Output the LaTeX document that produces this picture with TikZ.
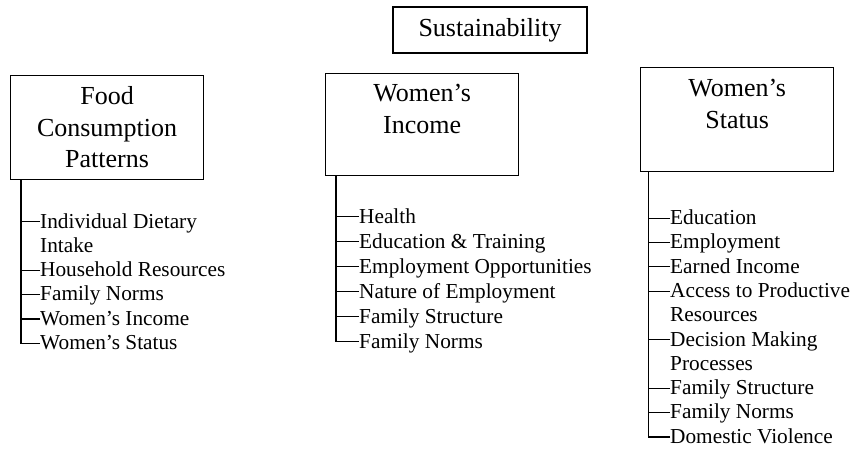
\documentclass[tikz,border=0pt]{standalone}
\usepackage{fontspec}
\setmainfont{Liberation Serif}
\usetikzlibrary{positioning}
% two-line list entry, baseline on the first line
\newcommand{\twolines}[2]{\begin{tabular}[t]{@{}l@{}}#1\\#2\end{tabular}}

\begin{document}
\begin{tikzpicture}[
x=1pt, y=-1pt,
head/.style={
  draw,
  line width=1.2pt,
  minimum width=193pt,
  minimum height=104pt,
  align=center,
  font=\fontsize{26}{31.5}\selectfont,
  anchor=north west
  },
item/.style={
  anchor=base west,
  inner sep=0pt,
  font=\fontsize{21.3}{24.3}\selectfont
  },
tick/.style={
  line width=1.2pt
  }
]
\useasboundingbox (0,0) rectangle (853,449);
% top box
\node[head, minimum width=194pt, minimum height=46pt, anchor=center] (sust) at (490,30) {Sustainability};
% the three columns
\node[head] (food) at (10,75) {Food\\Consumption\\Patterns};
\node[head, minimum height=102pt] (inc) at (325,73) {Women’s\\Income\\\mbox{}};
\node[head] (stat) at (640,67) {Women’s\\Status\\\mbox{}};
\coordinate (food-t) at ([xshift=11pt]food.south west);
\coordinate (inc-t) at ([xshift=11pt]inc.south west);
\coordinate (stat-t) at ([xshift=8.5pt]stat.south west);
% food consumption patterns
\foreach \n/\t [count=\i] in {0/{\twolines{Individual Dietary}{Intake}},2/Household Resources,3/Family Norms,4/Women’s Income,5/Women’s Status}
  \node[item] (food-\i) at (40,{228+24.3*\n}) {\t};
\foreach \i in {1,...,5}
  \draw[tick] ([yshift=6.3pt]food-\i.base west) -| (food-t);
% women's income
\foreach \t [count=\i] in {Health,Education \& Training,Employment Opportunities,Nature of Employment,Family Structure,Family Norms}
  \node[item] (inc-\i) at (359,{223+25*(\i-1)}) {\t};
\foreach \i in {1,...,6}
  \draw[tick] ([yshift=6.3pt]inc-\i.base west) -| (inc-t);
% women's status
\foreach \n/\t [count=\i] in {0/Education,1/Employment,2/Earned Income,3/{\twolines{Access to Productive}{Resources}},5/{\twolines{Decision Making}{Processes}},7/Family Structure,8/Family Norms,9/Domestic Violence}
  \node[item] (stat-\i) at (670,{224.5+24.3*\n}) {\t};
\foreach \i in {1,...,8}
  \draw[tick] ([yshift=6.3pt]stat-\i.base west) -| (stat-t);
\end{tikzpicture}
\end{document}
